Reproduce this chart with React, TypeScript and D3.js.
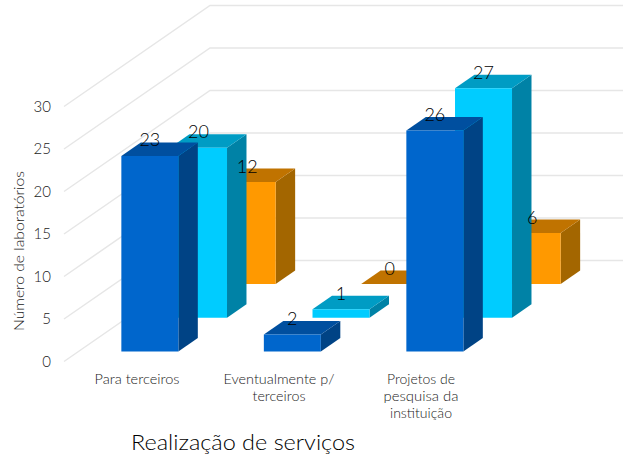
import React from "react";
import * as d3 from "d3";

const categories = ["Para terceiros", "Eventualmente p/ terceiros", "Projetos de pesquisa da instituição"];
const categoryLines = [["Para terceiros"], ["Eventualmente p/", "terceiros"], ["Projetos de", "pesquisa da", "instituição"]];
const categoryLineWidths = [[85], [111, 53], [68, 75, 62]];
const seriesA = [23, 2, 26];
const seriesB = [20, 1, 27];
const seriesC = [12, 0, 6];
const yTicks = [0, 5, 10, 15, 20, 25, 30];

const palette = [
  { front: "#0066cc", top: "#004f9f", side: "#004385" },
  { front: "#00ccff", top: "#009cc4", side: "#0082a6" },
  { front: "#ff9900", top: "#c07300", side: "#a36600" },
];
const allSeries = [seriesA, seriesB, seriesC];

const FONT = "Lato, 'Noto Sans', sans-serif";
const W = 631, H = 456;

const y = d3.scaleLinear().domain([0, 30]).range([361.5, 106.5]);
const x = d3.scaleBand<string>().domain(categories).range([64, 491.5]).paddingInner(0.6).paddingOuter(0.3);
const depthX = d3.scaleLinear().domain([0, 1]).range([0, 146]);
const depthY = d3.scaleLinear().domain([0, 1]).range([0, -101]);
const seriesDepth = d3.scaleBand<number>().domain([0, 1, 2]).range([0, 1]).paddingInner(0.6).paddingOuter(0.3);

const pt = (px: number, v: number, d: number): [number, number] => [px + depthX(d), y(v) + depthY(d)];
const poly = (pts: [number, number][]) => d3.line()(pts) + "Z";

export default function App() {
  const bw = x.bandwidth();
  const dd = seriesDepth.step() * 0.4;
  const bars = [2, 1, 0].flatMap((s) =>
    categories.map((c, i) => {
      const v = allSeries[s][i];
      const x0 = x(c)!;
      const d0 = seriesDepth(s)!;
      const d1 = d0 + dd;
      const x1 = x0 + bw;
      return {
        key: `${s}-${i}`,
        s,
        v,
        front: poly([pt(x0, 0, d0), pt(x1, 0, d0), pt(x1, v, d0), pt(x0, v, d0)]),
        top: poly([pt(x0, v, d0), pt(x1, v, d0), pt(x1, v, d1), pt(x0, v, d1)]),
        side: poly([pt(x1, 0, d0), pt(x1, 0, d1), pt(x1, v, d1), pt(x1, v, d0)]),
        lx: pt(x0 + bw / 2, v, d0)[0],
        ly: pt(x0, v, d1)[1],
      };
    })
  );
  return (
    <svg width={W} height={H} style={{ position: "fixed", left: 0, top: 0, background: "#fff" }} fontFamily={FONT} fontWeight={300}>
      {yTicks.map((t) => {
        const a = pt(64, t, 0), b = pt(64, t, 1);
        return (
          <g key={t}>
            <path d={d3.line()([a, b, [623, b[1]]])!} fill="none" stroke="#e6e6e6" strokeWidth={1.5} />
            <text x={51} y={a[1] + 5} textAnchor="end" fontSize={15} fill="#1a1a1a">{t}</text>
          </g>
        );
      })}
      {bars.map((b) => (
        <g key={b.key}>
          <path d={b.side} fill={palette[b.s].side} />
          <path d={b.top} fill={palette[b.s].top} />
          <path d={b.front} fill={palette[b.s].front} />
        </g>
      ))}
      {bars.map((b) => (
        <text key={b.key} x={b.lx} y={b.ly + 4} textAnchor="middle" fontSize={18} fill="#000">{b.v}</text>
      ))}
      {categoryLines.map((lines, i) =>
        lines.map((l, j) => (
          <text key={l} x={137 + 142 * i} y={384 + j * 17} textAnchor="middle" fontSize={13} fill="#1a1a1a"
            textLength={categoryLineWidths[i][j]} lengthAdjust="spacingAndGlyphs">{l}</text>
        ))
      )}
      <text transform="translate(24,251) rotate(-90)" textAnchor="middle" fontSize={14} fill="#1a1a1a"
        textLength={160} lengthAdjust="spacingAndGlyphs">Número de laboratórios</text>
      <text x={243} y={450} textAnchor="middle" fontSize={22} fill="#000"
        textLength={224} lengthAdjust="spacingAndGlyphs">Realização de serviços</text>
    </svg>
  );
}
